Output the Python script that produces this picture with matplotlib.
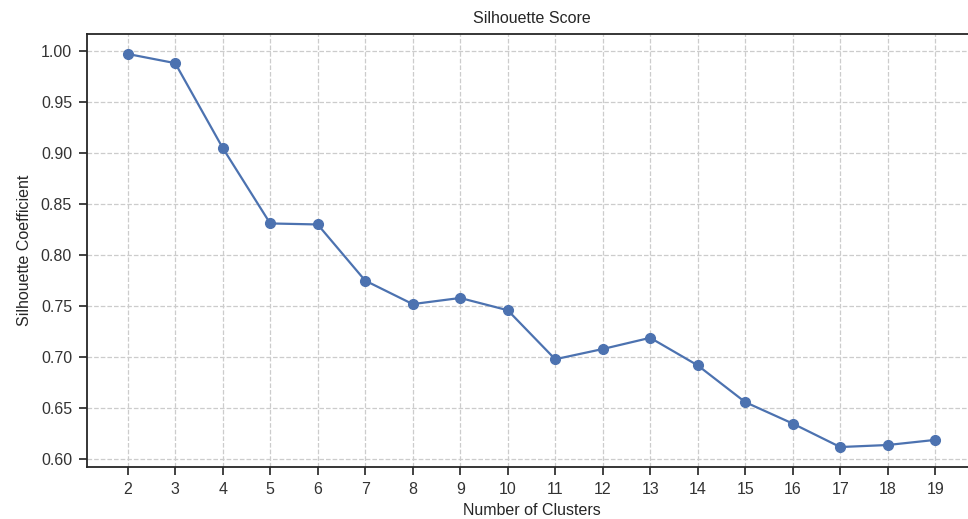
import matplotlib
matplotlib.use("Agg")
import matplotlib.pyplot as plt
import seaborn as sns

# silhouette scores for k = 2..19
n_clusters = list(range(2, 20))
scores = [0.997, 0.988, 0.905, 0.831, 0.830, 0.775, 0.752, 0.758, 0.746,
          0.698, 0.708, 0.719, 0.692, 0.656, 0.635, 0.612, 0.614, 0.619]

sns.set_style("ticks")
plt.rcParams['font.family'] = ['Liberation Sans', 'DejaVu Sans']

fig = plt.figure(figsize=(9.68, 5.19), dpi=100)
ax = fig.add_axes([87.3 / 968, 52.3 / 519, 888.3 / 968, 432.4 / 519])

ax.plot(n_clusters, scores, marker='o', color='#4C72B0', linewidth=1.6, markersize=7)
ax.set_xticks(n_clusters)
ax.grid(True, linestyle='--', color='#cccccc', linewidth=0.9)

for s in ax.spines.values():
    s.set_linewidth(1.3)
    s.set_color('#262626')

ax.set_title("Silhouette Score", fontsize=11.5, color='#262626', pad=8)
ax.set_xlabel("Number of Clusters", fontsize=11.5, color='#262626', labelpad=4)
ax.set_ylabel("Silhouette Coefficient", fontsize=11.5, color='#262626', labelpad=6)
ax.tick_params(labelsize=11.5, colors='#333333', length=6, width=1.3, pad=5)
ax.set_yticks([0.60, 0.65, 0.70, 0.75, 0.80, 0.85, 0.90, 0.95, 1.00])
ax.yaxis.set_major_formatter(matplotlib.ticker.FormatStrFormatter('%.2f'))

fig.savefig("out.png", dpi=100)
